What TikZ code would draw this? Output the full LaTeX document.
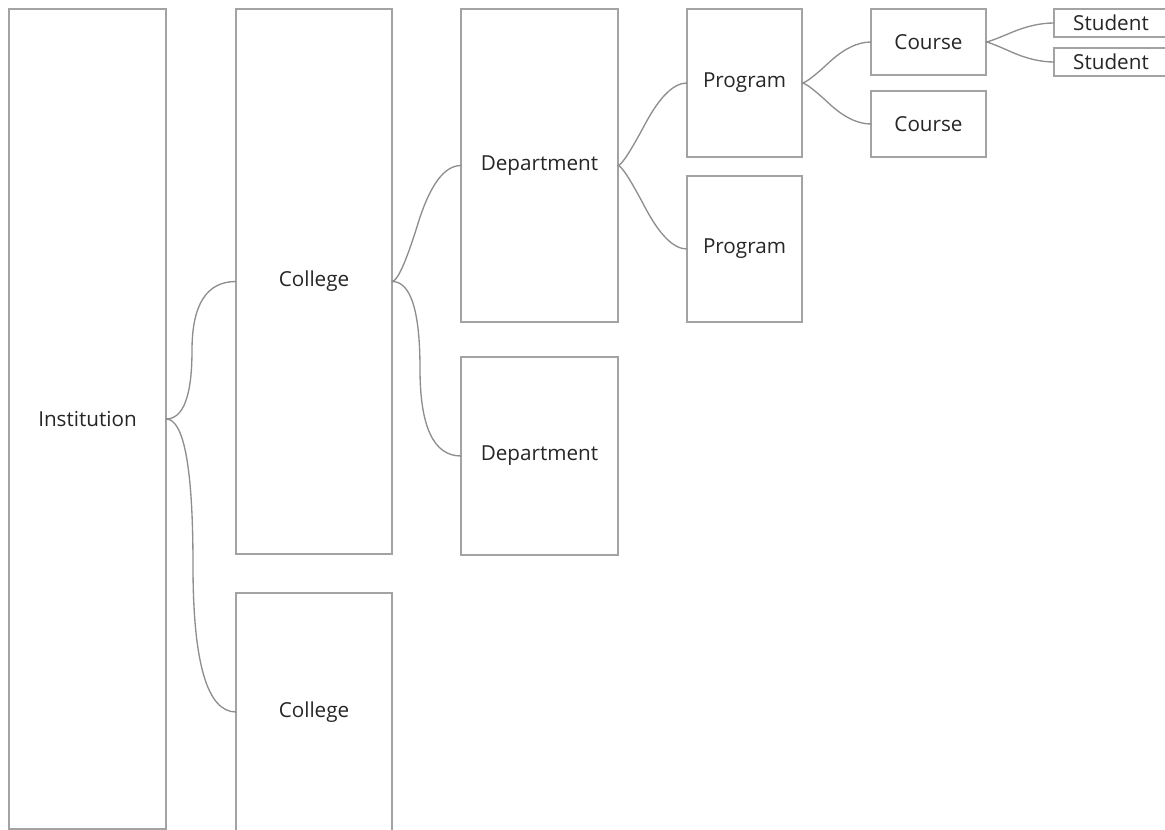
\documentclass[tikz,border=0pt]{standalone}
\usepackage{fontspec}
\setmainfont{Open Sans}
\usetikzlibrary{calc}
\definecolor{boxline}{HTML}{A3A3A3}
\definecolor{linkline}{HTML}{8E8E8E}
\definecolor{labeltext}{HTML}{262626}
\begin{document}
\begin{tikzpicture}[x=0.75pt,y=-0.75pt,
  box/.style={draw=boxline, line width=1.2pt, fill=white, inner sep=0pt,
    outer sep=0pt, text=labeltext, font=\fontsize{15.5}{18}\selectfont},
  sz/.style 2 args={minimum width=#1*0.75pt, minimum height=#2*0.75pt},
  % curved branch through two guide points: #1 = run after the parent,
  % #2 = run before the child (both in px); two quadratic halves
  branch/.style 2 args={draw=linkline, line width=1pt, line cap=round,
    to path={
      let \p1=(\tikztostart), \p2=(\tikztotarget),
          \n1={\x1+#1*0.75pt}, \n2={\x2-#2*0.75pt},
          \n3={0.5*(\n1+\n2)}, \n4={0.5*(\y1+\y2)}
      in .. controls ({\x1+0.6667*(\n1-\x1)},\y1)
                 and ({\n3+0.6667*(\n1-\n3)},{\n4+0.6667*(\y1-\n4)}) .. (\n3,\n4)
         .. controls ({\n3+0.6667*(\n2-\n3)},{\n4+0.6667*(\y2-\n4)})
                 and ({\x2+0.6667*(\n2-\x2)},\y2) .. (\tikztotarget)
    }}]
\useasboundingbox (0,0) rectangle (1165,830);
\clip (0,0) rectangle (1165,830);

% hierarchy boxes
\node[box, sz={157}{820}] (inst) at (87.5,419) {Institution};
\node[box, sz={156}{545}] (col1) at (314,281.5) {College};
\node[box, sz={156}{238}] (col2) at (314,712) {College};
\node[box, sz={157}{313}] (dep1) at (539.5,165.5) {Department};
\node[box, sz={157}{198}] (dep2) at (539.5,456) {Department};
\node[box, sz={115}{148}] (prg1) at (744.5,83) {Program};
\node[box, sz={115}{146}] (prg2) at (744.5,249) {Program};
\node[box, sz={115}{66}] (crs1) at (928.5,42) {Course};
\node[box, sz={115}{66}] (crs2) at (928.5,124) {Course};
\node[box, sz={114}{28}] (stu1) at (1111,23) {Student};
\node[box, sz={114}{28}] (stu2) at (1111,62) {Student};

% branches
\draw[branch={26}{44}] (inst.east) to (col1.west);
\draw[branch={27}{43}] (inst.east) to (col2.west);
\draw[branch={8}{25}] (col1.east) to (dep1.west);
\draw[branch={28}{41}] (col1.east) to (dep2.west);
\draw[branch={5}{20}] (dep1.east) to (prg1.west);
\draw[branch={5}{20}] (dep1.east) to (prg2.west);
\draw[branch={5}{20}] (prg1.east) to (crs1.west);
\draw[branch={5}{20}] (prg1.east) to (crs2.west);
\draw[branch={3}{20}] (crs1.east) to (stu1.west);
\draw[branch={3}{20}] (crs1.east) to (stu2.west);
\end{tikzpicture}
\end{document}
